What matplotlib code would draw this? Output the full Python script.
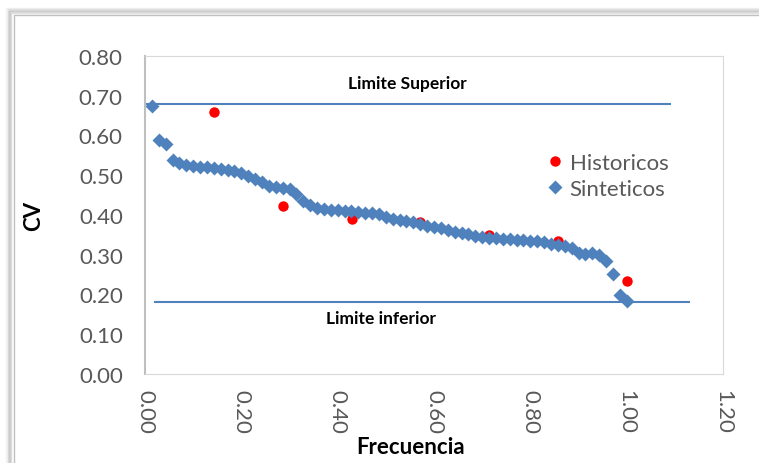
import numpy as np
import matplotlib.pyplot as plt
from matplotlib.patches import Rectangle

plt.rcParams['font.family'] = ['Lato', 'DejaVu Sans']

# Historicos (7 years of record)
hist_x = [0.143, 0.286, 0.429, 0.571, 0.714, 0.857, 1.000]
hist_cv = [0.660, 0.423, 0.390, 0.383, 0.350, 0.335, 0.235]

# Sinteticos: 70 series, frecuencia i/70
sint_x = [i / 70 for i in range(1, 71)]
sint_cv = [0.675, 0.589, 0.579, 0.538, 0.531, 0.526, 0.523, 0.521, 0.521, 0.518,
           0.516, 0.513, 0.511, 0.506, 0.498, 0.490, 0.483, 0.473, 0.470, 0.468,
           0.465, 0.453, 0.435, 0.425, 0.418, 0.415, 0.413, 0.412, 0.410, 0.410,
           0.408, 0.405, 0.405, 0.403, 0.395, 0.390, 0.388, 0.385, 0.383, 0.378,
           0.373, 0.370, 0.368, 0.362, 0.357, 0.355, 0.352, 0.347, 0.345, 0.342,
           0.342, 0.340, 0.340, 0.337, 0.337, 0.335, 0.335, 0.332, 0.327, 0.325,
           0.322, 0.317, 0.305, 0.302, 0.305, 0.300, 0.285, 0.252, 0.199, 0.184]

# limit lines
sup_x = [0.0, 1.09]
sup_y = [0.680, 0.680]
inf_x = [0.02, 1.13]
inf_y = [0.182, 0.182]

blue = '#4f81bd'
grey = '#595959'

fig = plt.figure(figsize=(7.59, 4.64), dpi=100)
# chart border with a soft shadow
for k, a in enumerate([0.05, 0.08, 0.12]):
    fig.patches.append(Rectangle((12 / 759 - (3 - k) * 0.002, -0.1), 1.2, 1 - 14 / 464 + 0.1 + (3 - k) * 0.003,
                                 transform=fig.transFigure, fill=False,
                                 edgecolor='black', alpha=a, lw=2.5))
fig.patches.append(Rectangle((14 / 759, -0.1), 1.2, 1 - 16 / 464 + 0.1,
                             transform=fig.transFigure, fill=False,
                             edgecolor='#bfbfbf', lw=1.0))

ax = fig.add_axes([145 / 759, 1 - 375 / 464, (723 - 145) / 759, (375 - 57) / 464])

ax.plot(sup_x, sup_y, color=blue, lw=1.5)
ax.plot(inf_x, inf_y, color=blue, lw=1.5)
ax.plot(hist_x, hist_cv, 'o', color='#ff0000', ms=7.5, mec='none', label='Historicos')
ax.plot(sint_x, sint_cv, 'D', color=blue, ms=7, mec='none', label='Sinteticos')

ax.text(0.545, 0.733, 'Limite Superior', ha='center', va='center',
        fontsize=12.5, fontweight='bold')
ax.text(0.49, 0.141, 'Limite inferior', ha='center', va='center',
        fontsize=12.5, fontweight='bold')

ax.set_xlim(0, 1.2)
ax.set_ylim(0, 0.8)
ax.set_xticks(np.arange(0, 1.21, 0.2))
ax.set_yticks(np.arange(0, 0.81, 0.1))
ax.set_xticklabels([f'{v:.2f}' for v in np.arange(0, 1.21, 0.2)], rotation=270)
ax.set_yticklabels([f'{v:.2f}' for v in np.arange(0, 0.81, 0.1)])
ax.tick_params(length=0, labelsize=16, colors=grey)
ax.tick_params(axis='y', pad=16)
ax.tick_params(axis='x', pad=11)

for s in ['top', 'right', 'bottom']:
    ax.spines[s].set_color('#d9d9d9')
ax.spines['left'].set_color('#bfbfbf')
ax.spines['left'].set_linewidth(1.5)

ax.set_xlabel('Frecuencia', fontsize=16, fontweight='bold')
ax.xaxis.set_label_coords(0.46, -0.195)
ax.set_ylabel('CV', fontsize=16, fontweight='bold')
ax.yaxis.set_label_coords(-0.175, 0.5)

leg = ax.legend(loc='upper left', bbox_to_anchor=(0.675, 0.73), frameon=False,
                fontsize=16, handletextpad=0.25, labelspacing=0.25,
                handlelength=0.8, borderpad=0)
for t in leg.get_texts():
    t.set_color(grey)

fig.savefig('out.png', dpi=100)
